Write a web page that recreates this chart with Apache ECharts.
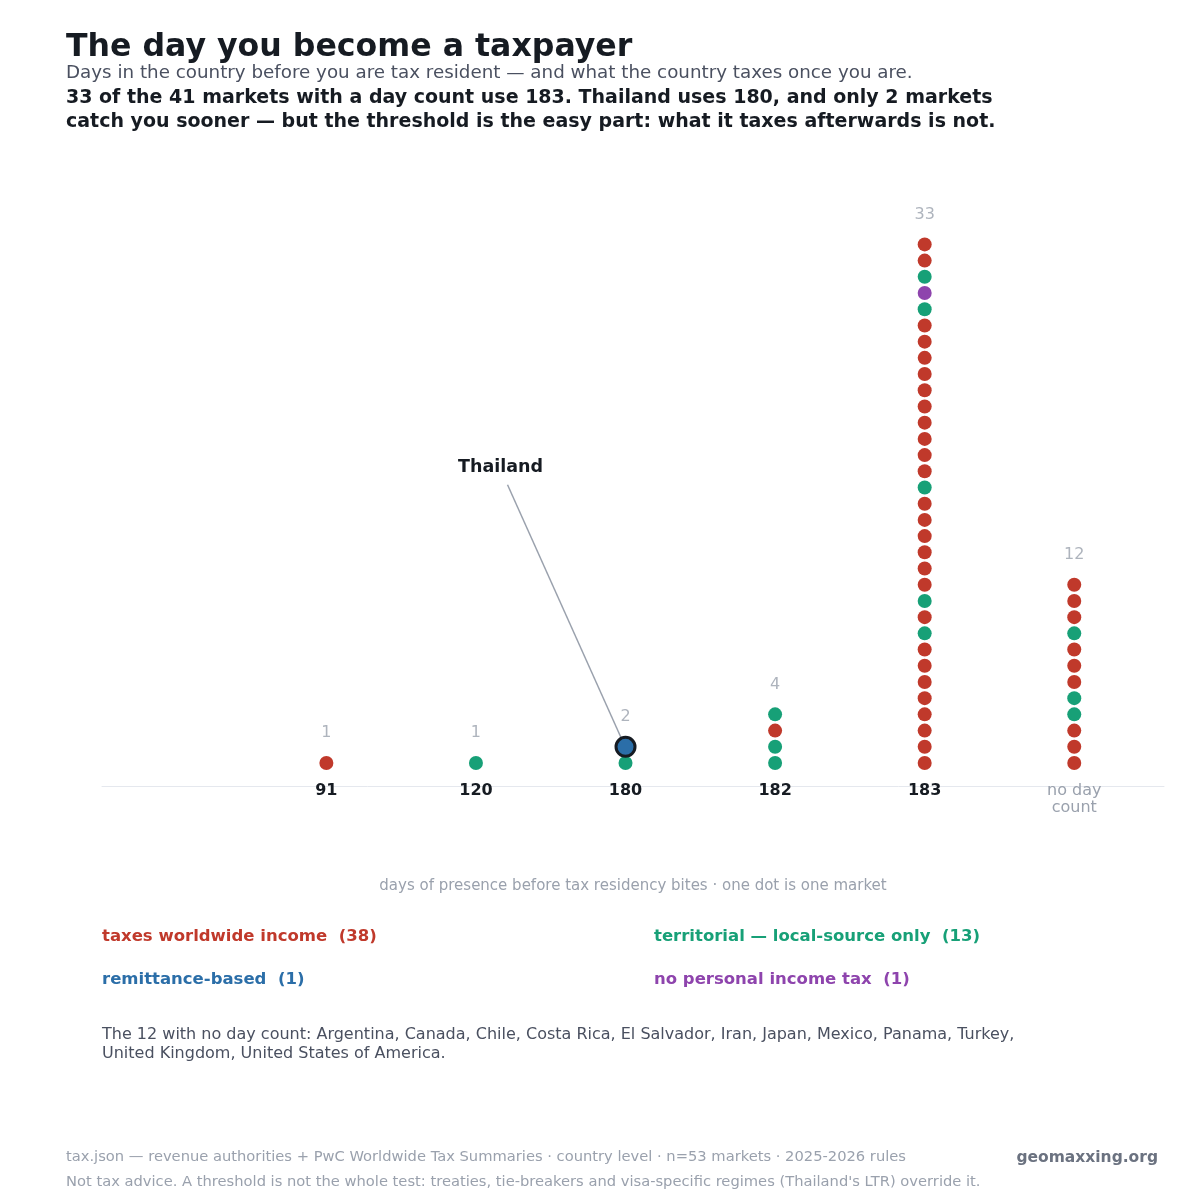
<!DOCTYPE html>
<html>
<head>
<meta charset="utf-8">
<script src="https://cdn.jsdelivr.net/npm/echarts@6/dist/echarts.min.js"></script>
<style>
html, body { margin: 0; background: #fff; }
#chart { width: 1200px; height: 1200px; }
</style>
</head>
<body>
<div id="chart"></div>
<script>
// day-count thresholds along the x axis
var dayCats = ['91', '120', '180', '182', '183', 'no day count'];

// one letter per market, bottom of the stack first
// W worldwide, T territorial, R remittance, N no income tax
var stack91 = ['W'];
var stack120 = ['T'];
var stack180 = ['T', 'R'];
var stack182 = ['T', 'T', 'W', 'T'];
var stack183 = ['W', 'W', 'W', 'W', 'W', 'W', 'W', 'W', 'T', 'W', 'T',
    'W', 'W', 'W', 'W', 'W', 'W', 'T',
    'W', 'W', 'W', 'W', 'W', 'W', 'W', 'W', 'W', 'W',
    'T', 'N', 'T', 'W', 'W'];
var stackNone = ['W', 'W', 'W', 'T', 'T', 'W', 'W', 'W', 'T', 'W', 'W', 'W'];
var stacks = [stack91, stack120, stack180, stack182, stack183, stackNone];

var regimeKeys = ['W', 'T', 'R', 'N'];
var regimeNames = ['taxes worldwide income', 'territorial \u2014 local-source only', 'remittance-based', 'no personal income tax'];
var regimeColors = ['#c0392b', '#17a077', '#2b6ea8', '#8e44ad'];

var noCountMarkets = ['Argentina', 'Canada', 'Chile', 'Costa Rica', 'El Salvador', 'Iran', 'Japan', 'Mexico', 'Panama', 'Turkey', 'United Kingdom', 'United States of America'];

// the market called out on the chart
var callout = { name: 'Thailand', col: 2, row: 1 };

var font = 'DejaVu Sans';
var ink = '#161b22';
var gray = '#9aa1ad';

var chart = echarts.init(document.getElementById('chart'));

var series = [];
var names = [];
regimeKeys.forEach(function(key, k) {
    var pts = [];
    stacks.forEach(function(st, col) {
        st.forEach(function(r, row) {
            if (r !== key) return;
            if (col === callout.col && row === callout.row) {
                pts.push({
                    value: [col, row],
                    symbolSize: 19,
                    itemStyle: { borderColor: ink, borderWidth: 3 },
                    z: 5
                });
            } else {
                pts.push([col, row]);
            }
        });
    });
    var name = regimeNames[k] + '  (' + pts.length + ')';
    names.push(name);
    series.push({
        type: 'scatter',
        name: name,
        data: pts,
        symbolSize: 14,
        itemStyle: { color: regimeColors[k], opacity: 1 },
        emphasis: { disabled: true }
    });
});

// stack counts above each column
series.push({
    type: 'scatter',
    name: 'counts',
    silent: true,
    symbolSize: 1,
    itemStyle: { color: 'transparent' },
    data: stacks.map(function(st, col) { return [col, st.length - 1, st.length]; }),
    label: {
        show: true,
        position: 'inside',
        offset: [0, -30],
        formatter: function(p) { return p.value[2]; },
        color: gray,
        fontFamily: font,
        fontSize: 16
    }
});

function legendItem(i) {
    return { name: names[i], textStyle: { color: regimeColors[i] } };
}
var legendText = { fontFamily: font, fontSize: 16.5, fontWeight: 'bold', lineHeight: 18 };

var option = {
    backgroundColor: '#fff',
    animation: false,
    title: [
        { text: 'The day you become a taxpayer', left: 66, top: 32, padding: 0,
          textStyle: { fontFamily: font, fontSize: 31.6, fontWeight: 'bold', color: ink } },
        { text: 'Days in the country before you are tax resident \u2014 and what the country taxes once you are.',
          left: 66, top: 64, padding: 0,
          textStyle: { fontFamily: font, fontSize: 18.3, fontWeight: 'normal', color: '#4a5060' } },
        { text: '33 of the 41 markets with a day count use 183. Thailand uses 180, and only 2 markets\ncatch you sooner \u2014 but the threshold is the easy part: what it taxes afterwards is not.',
          left: 66, top: 86, padding: 0,
          textStyle: { fontFamily: font, fontSize: 19, fontWeight: 'bold', color: ink, lineHeight: 24 } },
        { text: 'The ' + noCountMarkets.length + ' with no day count: ' + noCountMarkets.slice(0, 10).join(', ') + ',\n' + noCountMarkets.slice(10).join(', ') + '.',
          left: 102, top: 1025, padding: 0,
          textStyle: { fontFamily: font, fontSize: 16, fontWeight: 'normal', color: '#4a5060', lineHeight: 19 } },
        { text: 'tax.json \u2014 revenue authorities + PwC Worldwide Tax Summaries \u00b7 country level \u00b7 n=53 markets \u00b7 2025-2026 rules',
          left: 66, top: 1150, padding: 0,
          textStyle: { fontFamily: font, fontSize: 14.7, fontWeight: 'normal', color: gray } },
        { text: 'Not tax advice. A threshold is not the whole test: treaties, tie-breakers and visa-specific regimes (Thailand\'s LTR) override it.',
          left: 66, top: 1175, padding: 0,
          textStyle: { fontFamily: font, fontSize: 14.7, fontWeight: 'normal', color: gray } },
        { text: 'geomaxxing.org', right: 42, top: 1150, padding: 0,
          textStyle: { fontFamily: font, fontSize: 15.5, fontWeight: 'bold', color: '#6b7280' } }
    ],
    legend: [
        { data: [legendItem(0), legendItem(2)], orient: 'vertical', left: 97, top: 928,
          icon: 'none', itemWidth: 0, itemHeight: 18, itemGap: 25, padding: 0,
          selectedMode: false, textStyle: legendText },
        { data: [legendItem(1), legendItem(3)], orient: 'vertical', left: 649, top: 928,
          icon: 'none', itemWidth: 0, itemHeight: 18, itemGap: 25, padding: 0,
          selectedMode: false, textStyle: legendText }
    ],
    grid: { left: 102, right: 36, top: 212, bottom: 414 },
    xAxis: {
        type: 'value',
        min: -1.5,
        max: 5.6,
        splitLine: { show: false },
        axisTick: { show: false },
        axisLine: { show: true, onZero: false, lineStyle: { color: '#e5e8ee', width: 1 } },
        axisLabel: {
            customValues: [0, 1, 2, 3, 4, 5],
            margin: -4,
            formatter: function(v) {
                var s = dayCats[Math.round(v)];
                if (s === 'no day count') return '{g|no day}\n{g|count}';
                return '{b|' + s + '}';
            },
            rich: {
                b: { fontFamily: font, fontSize: 16, fontWeight: 'bold', color: ink, lineHeight: 17 },
                g: { fontFamily: font, fontSize: 16, color: gray, lineHeight: 17 }
            }
        },
        name: 'days of presence before tax residency bites \u00b7 one dot is one market',
        nameLocation: 'middle',
        nameGap: 93,
        nameTextStyle: { fontFamily: font, fontSize: 15, color: gray }
    },
    yAxis: {
        type: 'value',
        min: -1.42,
        max: 34,
        show: false
    },
    series: series
};

chart.setOption(option);

// callout line and label, placed from the highlighted dot's pixel position
var p = chart.convertToPixel({ gridIndex: 0 }, [callout.col, callout.row]);
chart.setOption({
    graphic: [
        { type: 'line', z: 1, silent: true,
          shape: { x1: p[0] - 118, y1: p[1] - 262, x2: p[0] - 4, y2: p[1] - 8 },
          style: { stroke: gray, lineWidth: 1.5 } },
        { type: 'text', z: 10, silent: true, x: p[0] - 125, y: p[1] - 279,
          style: { text: callout.name, fontFamily: font, fontSize: 17.5, fontWeight: 'bold',
                   fill: ink, align: 'center', verticalAlign: 'middle' } }
    ]
});
</script>
</body>
</html>
